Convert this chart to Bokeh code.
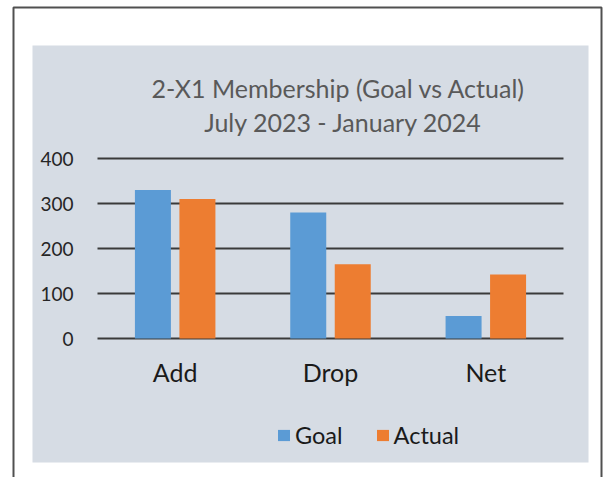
from bokeh.plotting import figure
from bokeh.models import (Range1d, LinearAxis, FixedTicker, Label, Legend, LegendItem)
from bokeh.embed import file_html
from bokeh.resources import INLINE

# ---- data ----
categories = ["Add", "Drop", "Net"]
goal = [330, 280, 50]
actual = [310, 165, 142]
series_names = ["Goal", "Actual"]
yticks = [0, 100, 200, 300, 400]
title_text = "2-X1 Membership (Goal vs Actual)"
subtitle_text = "July 2023 - January 2024"

# ---- styles ----
FONT = "Lato"
BLUE = "#5B9BD5"
ORANGE = "#ED7D31"
PANEL = "#D6DCE4"
GRID = "#3A3A3A"

W, H = 603, 477          # canvas size (pixels map 1:1 to the layout below)
X0_PX, PX_PER_CAT = 97.0, 155.33
Y0_PX, PX_PER_UNIT = 338.0, 0.45
def dx(px):
    return (px - X0_PX) / PX_PER_CAT
def dy(py):
    return (Y0_PX - py) / PX_PER_UNIT

p = figure(width=W, height=H, output_backend="svg", toolbar_location=None,
           x_range=Range1d(dx(0), dx(W)), y_range=Range1d(dy(H), dy(0)),
           x_axis_type=None, y_axis_type=None, min_border=0)
p.title.visible = False
p.outline_line_color = None
p.background_fill_color = "white"
p.border_fill_color = "white"

# outer frame line (open at the bottom) and chart panel
p.line(x=[dx(13), dx(13), dx(601), dx(601)], y=[dy(520), dy(7), dy(7), dy(520)],
       line_color="#505050", line_width=2)
p.quad(left=dx(32), right=dx(588), top=dy(45), bottom=dy(462),
       fill_color=PANEL, line_color=None)

# gridlines across the category span
n = len(categories)
p.segment(x0=[0] * len(yticks), x1=[n] * len(yticks), y0=yticks, y1=yticks,
          line_color=GRID, line_width=2)

# bars
bar_w = 36 / PX_PER_CAT
off = 22.25 / PX_PER_CAT
xs = [i + 0.5 for i in range(n)]
r_goal = p.vbar(x=[x - off for x in xs], top=goal, width=bar_w, bottom=0,
                fill_color=BLUE, line_color=None)
r_act = p.vbar(x=[x + off for x in xs], top=actual, width=bar_w, bottom=0,
               fill_color=ORANGE, line_color=None)

# axes (fixed inside the frame)
yaxis = LinearAxis(fixed_location=0, ticker=FixedTicker(ticks=yticks))
yaxis.axis_line_color = None
yaxis.major_tick_line_color = None
yaxis.minor_tick_line_color = None
yaxis.major_label_standoff = 18
yaxis.major_label_text_font = FONT
yaxis.major_label_text_font_size = "19px"
yaxis.major_label_text_color = "#262626"
p.add_layout(yaxis, "left")

xaxis = LinearAxis(fixed_location=0, ticker=FixedTicker(ticks=xs),
                   major_label_overrides={x: c for x, c in zip(xs, categories)})
xaxis.axis_line_color = None
xaxis.major_tick_line_color = None
xaxis.minor_tick_line_color = None
xaxis.major_label_standoff = 12
xaxis.major_label_text_font = FONT
xaxis.major_label_text_font_size = "25px"
xaxis.major_label_text_color = "#1A1A1A"
p.add_layout(xaxis, "below")

# titles
p.add_layout(Label(x=dx(338), y=dy(87), text=title_text, text_align="center",
                   text_baseline="alphabetic", text_font=FONT,
                   text_font_size="25px", text_color="#595959"))
p.add_layout(Label(x=dx(343), y=dy(121), text=subtitle_text, text_align="center",
                   text_baseline="alphabetic", text_font=FONT,
                   text_font_size="25px", text_color="#595959"))

# legend
legend = Legend(items=[LegendItem(label=series_names[0], renderers=[r_goal]),
                       LegendItem(label=series_names[1], renderers=[r_act])],
                orientation="horizontal", location=(276, 28),
                glyph_width=15, glyph_height=14, label_standoff=4, spacing=32,
                padding=0, margin=0, border_line_color=None,
                background_fill_alpha=0, label_text_font=FONT,
                label_text_font_size="23.5px", label_text_color="#1A1A1A")
p.add_layout(legend, "center")

open("out.html", "w").write(file_html(p, INLINE))
